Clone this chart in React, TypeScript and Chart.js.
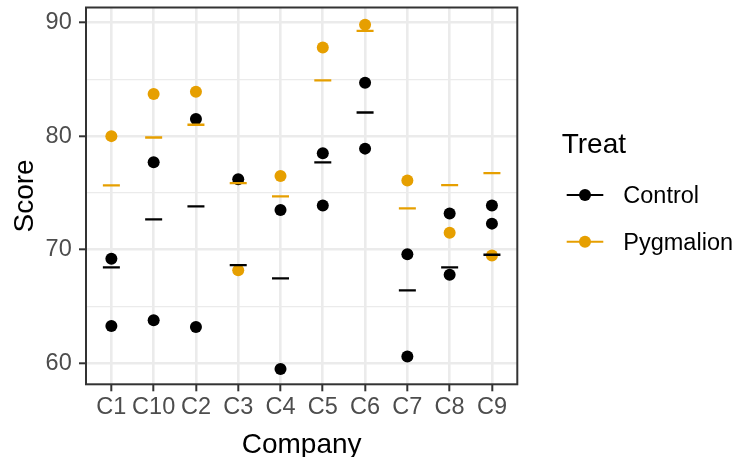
import React, { useEffect, useRef } from 'react';
import { Chart, registerables } from 'chart.js';

Chart.register(...registerables);

const categories = ['C1', 'C10', 'C2', 'C3', 'C4', 'C5', 'C6', 'C7', 'C8', 'C9'];
const treatLevels = ['Control', 'Pygmalion'];
const controlScores: number[][] = [
  [69.2, 63.3],
  [77.7, 63.8],
  [81.5, 63.2],
  [76.2],
  [73.5, 59.5],
  [78.5, 73.9],
  [84.7, 78.9],
  [69.6, 60.6],
  [73.2, 67.8],
  [73.9, 72.3],
];
const pygmalionScores = [80.0, 83.7, 83.9, 68.2, 76.5, 87.8, 89.8, 76.1, 71.5, 69.5];
const controlFitted = [68.45, 72.67, 73.82, 68.65, 67.48, 77.69, 82.08, 66.43, 68.45, 69.56];
const pygmalionFitted = [75.66, 79.88, 81.0, 75.87, 74.7, 84.9, 89.26, 73.64, 75.69, 76.75];
const yTickLabels = [60, 70, 80, 90];

const COLORS: Record<string, string> = { Control: '#000000', Pygmalion: '#E69F00' };
const FONT = "'Liberation Sans', Arial, sans-serif";

const decorPlugin = {
  id: 'ggDecor',
  afterDatasetsDraw(chart: any) {
    const { ctx, chartArea: a } = chart;
    ctx.save();
    ctx.strokeStyle = '#333333';
    ctx.lineWidth = 2;
    ctx.strokeRect(a.left, a.top, a.right - a.left, a.bottom - a.top);
    ctx.restore();
  },
  afterDraw(chart: any) {
    const { ctx, chartArea: a } = chart;
    ctx.save();
    // axis titles
    ctx.fillStyle = '#000000';
    ctx.font = `28px ${FONT}`;
    ctx.textAlign = 'center';
    ctx.textBaseline = 'alphabetic';
    ctx.fillText('Company', (a.left + a.right) / 2, 453.3);
    ctx.save();
    ctx.translate(32.5, (a.top + a.bottom) / 2);
    ctx.rotate(-Math.PI / 2);
    ctx.fillText('Score', 0, 0);
    ctx.restore();
    // legend
    ctx.textAlign = 'left';
    ctx.fillText('Treat', 561.7, 153.3);
    ctx.font = `23.5px ${FONT}`;
    const ys = [195, 241.7];
    treatLevels.forEach((lvl, i) => {
      const y = ys[i];
      const c = COLORS[lvl];
      ctx.strokeStyle = c;
      ctx.lineWidth = 2;
      ctx.beginPath();
      ctx.moveTo(566.7, y);
      ctx.lineTo(603.3, y);
      ctx.stroke();
      ctx.fillStyle = c;
      ctx.beginPath();
      ctx.arc(585, y, 6, 0, Math.PI * 2);
      ctx.fill();
      ctx.fillStyle = '#000000';
      ctx.fillText(lvl, 623.3, y + 8.4);
    });
    ctx.restore();
  },
};

export default function App() {
  const ref = useRef<HTMLCanvasElement | null>(null);

  useEffect(() => {
    document.body.style.margin = '0';
    const canvas = ref.current;
    if (!canvas) return;

    const controlPts: { x: number; y: number }[] = [];
    controlScores.forEach((arr, i) => arr.forEach((v) => controlPts.push({ x: i + 1, y: v })));
    const pygPts = pygmalionScores.map((v, i) => ({ x: i + 1, y: v }));
    const controlFit = controlFitted.map((v, i) => ({ x: i + 1, y: v }));
    const pygFit = pygmalionFitted.map((v, i) => ({ x: i + 1, y: v }));

    const chart = new Chart(canvas, {
      type: 'scatter',
      data: {
        datasets: [
          {
            label: 'Control fitted',
            data: controlFit,
            order: 0,
            pointStyle: 'line',
            pointRadius: 8.5,
            pointBorderWidth: 2.3,
            pointBorderColor: COLORS.Control,
            pointBackgroundColor: COLORS.Control,
          },
          {
            label: 'Pygmalion fitted',
            data: pygFit,
            order: 0,
            pointStyle: 'line',
            pointRadius: 8.5,
            pointBorderWidth: 2.3,
            pointBorderColor: COLORS.Pygmalion,
            pointBackgroundColor: COLORS.Pygmalion,
          },
          {
            label: 'Control',
            data: controlPts,
            order: 1,
            pointRadius: 6,
            pointBorderWidth: 0,
            pointBackgroundColor: COLORS.Control,
            pointBorderColor: COLORS.Control,
          },
          {
            label: 'Pygmalion',
            data: pygPts,
            order: 1,
            pointRadius: 6,
            pointBorderWidth: 0,
            pointBackgroundColor: COLORS.Pygmalion,
            pointBorderColor: COLORS.Pygmalion,
          },
        ] as any,
      },
      options: {
        animation: false,
        responsive: false,
        devicePixelRatio: 1,
        layout: { autoPadding: false, padding: { top: 7.5, right: 220.7, bottom: 0, left: 0 } },
        plugins: {
          legend: { display: false },
          tooltip: { enabled: false },
        },
        events: [],
        scales: {
          x: {
            type: 'linear',
            min: 0.4,
            max: 10.6,
            afterFit: (s: any) => {
              s.height = 457 - 384.3;
              s.paddingLeft = 0;
              s.paddingRight = 0;
            },
            border: { display: false },
            grid: {
              color: '#EBEBEB',
              lineWidth: 2.6,
              tickColor: '#333333',
              tickWidth: 2,
              tickLength: 7,
              drawTicks: true,
            },
            ticks: {
              stepSize: 1,
              includeBounds: false,
              autoSkip: false,
              maxRotation: 0,
              minRotation: 0,
              padding: 2,
              color: '#4D4D4D',
              font: { family: FONT, size: 23.5 },
              callback: (v: any) => categories[Number(v) - 1] ?? '',
            },
          },
          y: {
            type: 'linear',
            min: 58.16,
            max: 91.32,
            afterFit: (s: any) => {
              s.width = 86;
              s.paddingTop = 0;
              s.paddingBottom = 0;
            },
            border: { display: false },
            grid: {
              color: '#EBEBEB',
              lineWidth: (c: any) => (c.tick && c.tick.value % 10 === 0 ? 2.6 : 1.3),
              tickColor: (c: any) =>
                c.tick && c.tick.value % 10 === 0 ? '#333333' : 'rgba(0,0,0,0)',
              tickWidth: 2,
              tickLength: 7,
              drawTicks: true,
            },
            ticks: {
              stepSize: 5,
              includeBounds: false,
              autoSkip: false,
              padding: 7.3,
              color: '#4D4D4D',
              font: { family: FONT, size: 23.5 },
              callback: (v: any) => (yTickLabels.includes(Number(v)) ? String(v) : ''),
            },
          },
        },
      },
      plugins: [decorPlugin],
    } as any);

    return () => chart.destroy();
  }, []);

  return (
    <div style={{ width: 738, height: 457 }}>
      <canvas ref={ref} width={738} height={457} style={{ display: 'block' }} />
    </div>
  );
}
